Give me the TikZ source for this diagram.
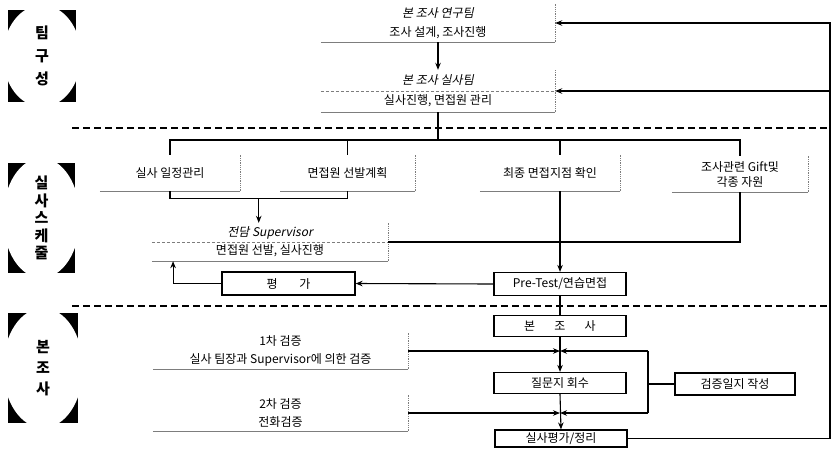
\documentclass[tikz,border=0pt]{standalone}
\usepackage{fontspec}
\setmainfont{Noto Sans CJK KR}
\newfontfamily\slantfont[FakeSlant=0.2]{Noto Sans CJK KR}
\usepackage{tikz}
\usetikzlibrary{positioning,calc,arrows.meta}
\definecolor{framegray}{RGB}{125,125,125}
\tikzstyle{panel} = [rectangle, inner sep=0pt, align=center,
    font=\fontsize{12}{18}\selectfont]
\tikzstyle{solidbox} = [rectangle, draw=black, line width=1.2pt, minimum width=132,
    minimum height=21, inner sep=0pt, font=\fontsize{12}{13}\selectfont]
\tikzstyle{arrow} = [line width=1.1pt,-{Stealth[length=7pt,width=5.5pt]}]
\tikzstyle{link} = [line width=1.1pt]
\tikzstyle{divider} = [line width=1.2pt, dash pattern=on 7pt off 4pt]
\tikzset{tag/.style 2 args={rectangle, minimum width=#1, minimum height=#2, inner sep=0pt,
    align=center, font=\fontsize{15}{23}\selectfont\bfseries,
    path picture={\fill[black] (path picture bounding box.south west) rectangle (path picture bounding box.north east);
      \fill[white] (path picture bounding box.center) ellipse [x radius=#1pt/2+5pt, y radius=#2pt/2+5pt];}}}
\newcommand{\halfframe}[1]{%
  \draw[framegray, line width=0.8pt] (#1.south west) -- (#1.south east);
  \draw[framegray, line width=0.8pt, densely dotted] (#1.south east) -- (#1.north east);}

\begin{document}
\begin{tikzpicture}[x=1pt,y=-1pt]
\useasboundingbox (0,0) rectangle (840,448);
% Section tags
\node[tag={68}{92}] (tagteam) at (42,56) {팀\\구\\성};
\node[tag={67}{110}, font=\fontsize{15}{17.5}\selectfont\bfseries] (tagplan) at (41.5,218) {실\\사\\스\\케\\줄};
\node[tag={70}{110}, font=\fontsize{15}{21}\selectfont\bfseries] (tagmain) at (43,368) {본\\조\\사};
% Dividers
\draw[divider] (72,128) -- (830,128);
\draw[divider] (72,306) -- (830,306);
% Team
\node[panel, minimum width=234, minimum height=38, font=\fontsize{12}{19}\selectfont] (research) at (438,23) {{\slantfont 본 조사 연구팀}\\조사 설계, 조사진행};
\node[panel, minimum width=234, minimum height=42, font=\fontsize{12}{20}\selectfont] (fieldteam) at (438,91) {{\slantfont 본 조사 실사팀}\\실사진행, 면접원 관리};
\draw[framegray, line width=0.6pt, densely dashed] (fieldteam.west) -- (fieldteam.east);
% Schedule
\node[panel, minimum width=140, minimum height=36] (schedule) at (170,173) {실사 일정관리};
\node[panel, minimum width=135, minimum height=36] (recruit) at (347.5,173) {면접원 선발계획};
\node[panel, minimum width=140, minimum height=36] (site) at (550,173) {최종 면접지점 확인};
\node[panel, minimum width=136, minimum height=36, font=\fontsize{12}{15}\selectfont] (gift) at (740,174) {조사관련 Gift및\\각종 자원};
\node[panel, minimum width=236, minimum height=38] (supervisor) at (270,242) {{\slantfont 전담 Supervisor}\\면접원 선발, 실사진행};
\draw[framegray, line width=0.6pt, densely dashed] (supervisor.west) -- (supervisor.east);
\node[solidbox, minimum height=23] (pretest) at (560,284) {Pre-Test/연습면접};
\node[solidbox, minimum width=133, minimum height=23] (review) at (288.5,283.5) {평\hspace{1.8em}가};
% Main survey
\node[solidbox] (mainsurvey) at (560,326) {본\hspace{1.6em}조\hspace{1.6em}사};
\node[solidbox] (collect) at (560,383) {질문지 회수};
\node[solidbox, minimum height=17] (wrapup) at (561,438.5) {실사평가/정리};
\node[solidbox, minimum width=120, minimum height=22] (logbook) at (735,384) {검증일지 작성};
\node[panel, minimum width=255, minimum height=36] (check1) at (280.5,351) {1차 검증\\실사 팀장과 Supervisor에 의한 검증};
\node[panel, minimum width=255, minimum height=36] (check2) at (280.5,413) {2차 검증\\전화검증};
% Frames
\halfframe{research}
\halfframe{fieldteam}
\halfframe{schedule}
\halfframe{recruit}
\halfframe{site}
\halfframe{gift}
\halfframe{supervisor}
\halfframe{check1}
\halfframe{check2}
% Arrows
\coordinate (fork) at (438,140);
\draw[arrow] (research.south) -- (fieldteam.north);
\draw[link] (fieldteam.south) -- (fork);
\draw[link] (schedule.north) -- (schedule.north |- fork) -- (gift.north |- fork) -- (gift.north);
\draw[link] (recruit.north) -- (recruit.north |- fork);
\draw[link] (pretest.north |- site.north) -- (pretest.north |- fork);
\coordinate (merge) at ($(schedule.south)!0.5!(recruit.south) + (0,7)$);
\draw[link] (schedule.south) |- (merge) -| (recruit.south);
\draw[arrow] (merge) -- (merge |- supervisor.north);
\draw[link] (gift.south) |- (supervisor.east);
\draw[arrow] (pretest.north |- site.south) -- (pretest.north);
\draw[arrow] (pretest.west) -- (review.east);
\draw[arrow] (review.west) -| ($(supervisor.south west)!0.09!(supervisor.south east)$);
\draw[link] (pretest.south) -- (mainsurvey.north);
\draw[arrow] (mainsurvey.south) -- (collect.north);
\draw[arrow] (collect.south) -- (wrapup.north);
\coordinate (join1) at (collect.north |- check1.east);
\coordinate (join2) at (collect.north |- check2.east);
\coordinate (loop) at (648,0);
\draw[arrow] (check1.east) -- (join1);
\draw[arrow] (check2.east) -- (join2);
\draw[link] (loop |- join1) -- (loop |- join2);
\draw[arrow] (loop |- join1) -- (join1);
\draw[arrow] (loop |- join2) -- (join2);
\draw[link] (logbook.west) -- (loop |- logbook.west);
% Feedback
\coordinate (returnline) at (830,0);
\draw[arrow] (wrapup.east) -| (returnline |- research.east) -- (research.east);
\draw[arrow] (returnline |- fieldteam.east) -- (fieldteam.east);
\end{tikzpicture}
\end{document}
